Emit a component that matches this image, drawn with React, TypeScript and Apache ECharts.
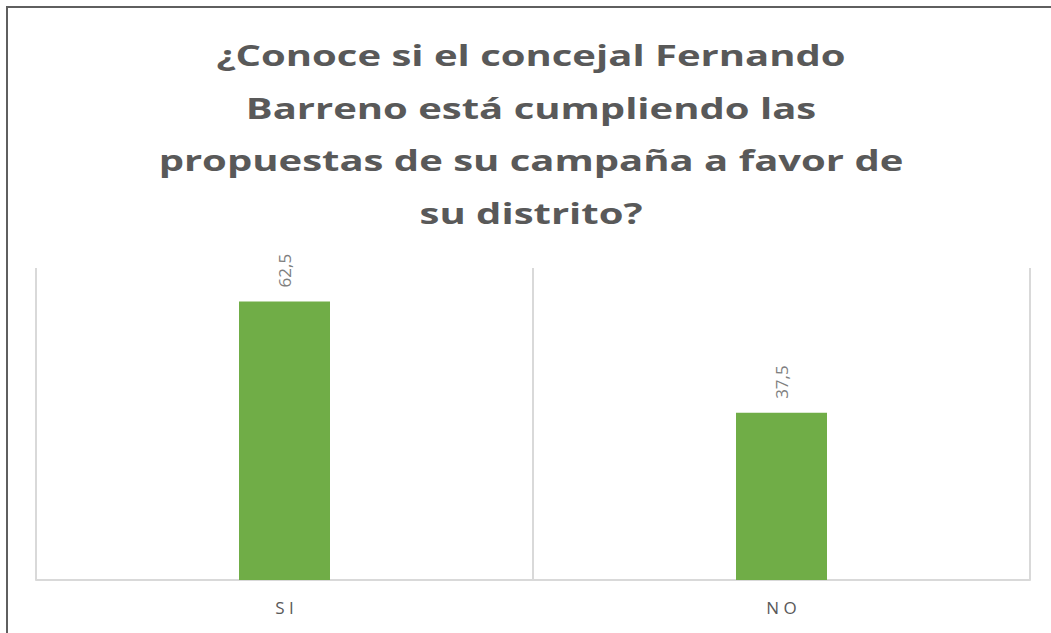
import React, { useEffect, useRef } from "react";
import * as echarts from "echarts";

const categories: string[] = ["SI", "NO"];
const values: number[] = [62.5, 37.5];
const titleText = "¿Conoce si el concejal Fernando\nBarreno está cumpliendo las\npropuestas de su campaña a favor de\nsu distrito?";

export default function App() {
  const ref = useRef<HTMLDivElement>(null);
  useEffect(() => {
    document.body.style.margin = "0";
    if (!ref.current) return;
    const chart = echarts.init(ref.current, null, { renderer: "svg" });
    chart.setOption({
      animation: false,
      backgroundColor: "#ffffff",
      graphic: [
        { type: "line", shape: { x1: 6, y1: 7, x2: 1051, y2: 7 }, style: { stroke: "#5f5f5f", lineWidth: 2 } },
        { type: "line", shape: { x1: 7, y1: 6, x2: 7, y2: 633 }, style: { stroke: "#5f5f5f", lineWidth: 2 } },
        {
          type: "text",
          x: 531,
          y: 29,
          scaleX: 1.38,
          originX: 0,
          style: {
            text: titleText,
            align: "center",
            verticalAlign: "top",
            fontFamily: "Open Sans",
            fontWeight: "bold",
            fontSize: 29,
            lineHeight: 52.5,
            fill: "#595959",
          },
        },
      ],
      grid: { left: 36, right: 21, top: 268, bottom: 53 },
      xAxis: {
        type: "category",
        data: categories,
        boundaryGap: true,
        axisLine: { show: true, lineStyle: { color: "#d9d9d9", width: 2 } },
        axisTick: { show: false },
        splitLine: { show: true, lineStyle: { color: "#d9d9d9", width: 2 } },
        axisLabel: {
          color: "#595959",
          fontFamily: "Open Sans",
          fontSize: 17,
          margin: 19,
          formatter: (v: string) => v.split("").join(" "),
        },
      },
      yAxis: {
        type: "value",
        min: 0,
        max: 70,
        show: false,
        splitLine: { show: false },
      },
      series: [
        {
          type: "bar",
          data: values,
          barWidth: 91,
          itemStyle: { color: "#70ad47" },
          label: {
            show: true,
            position: "top",
            rotate: 90,
            align: "left",
            verticalAlign: "middle",
            distance: 14,
            color: "#7f7f7f",
            fontFamily: "Open Sans",
            fontSize: 17,
            formatter: (p: any) => String(p.value).replace(".", ","),
          },
        },
      ],
    });
    return () => chart.dispose();
  }, []);
  return <div ref={ref} style={{ width: 1051, height: 633 }} />;
}
